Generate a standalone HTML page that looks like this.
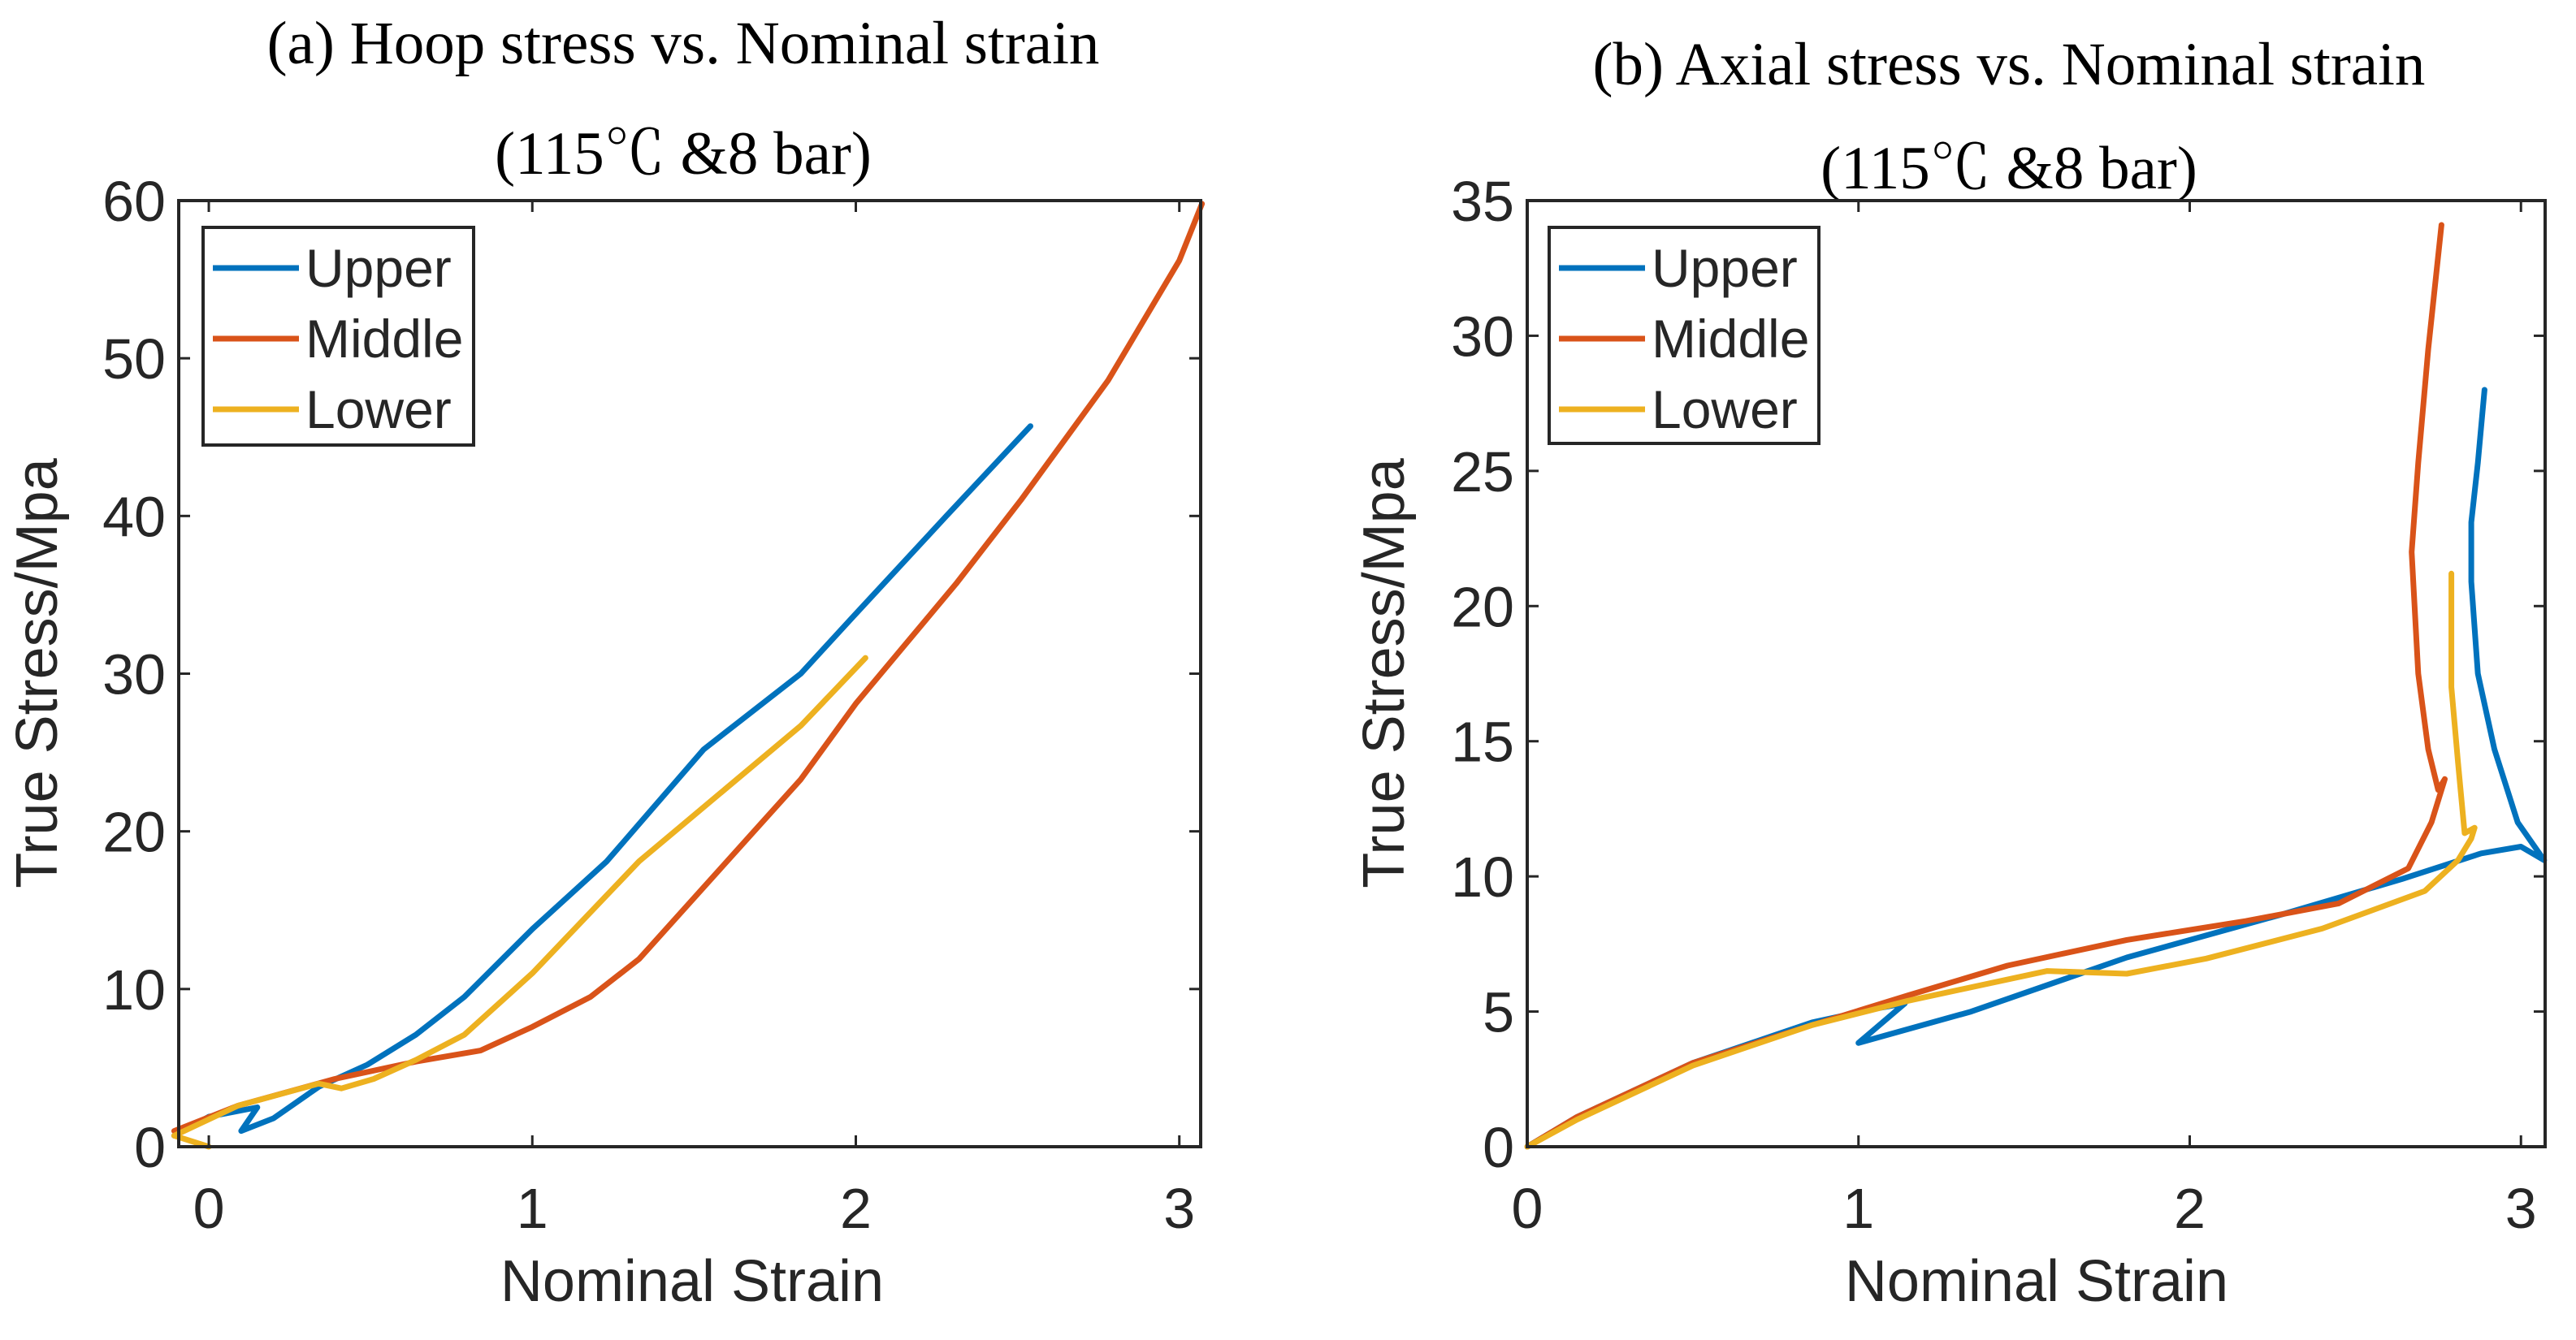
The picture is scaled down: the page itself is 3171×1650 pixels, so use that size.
<!DOCTYPE html>
<html><head><meta charset="utf-8">
<style>
html,body{margin:0;padding:0;background:#fff;}
svg{display:block;}
.t{font-family:"Liberation Serif","Noto Serif CJK SC",serif;font-size:75px;fill:#000;}
.s{font-family:"Liberation Sans",sans-serif;fill:#262626;}
</style></head>
<body>
<svg id="fig" width="3171" height="1650" viewBox="0 0 3171 1650" xmlns="http://www.w3.org/2000/svg">
<text class="t" x="841" y="78" text-anchor="middle">(a) Hoop stress vs. Nominal strain</text>
<text class="t" x="841" y="214" text-anchor="middle">(115℃ &amp;8 bar)</text>
<text class="t" x="2473" y="104" text-anchor="middle">(b) Axial stress vs. Nominal strain</text>
<text class="t" x="2473" y="232" text-anchor="middle">(115℃ &amp;8 bar)</text>
</svg>
<script>
// ---- Chart (a) data ----
const aXTicks = [0, 1, 2, 3];
const aYTicks = [0, 10, 20, 30, 40, 50, 60];
const aUpperX = [-0.107, 0.0, 0.15, 0.10, 0.20, 0.34, 0.49, 0.64, 0.79, 1.0, 1.23, 1.53, 1.83, 2.0, 2.28, 2.54];
const aUpperY = [0.7, 1.9, 2.5, 1.0, 1.8, 3.8, 5.2, 7.1, 9.5, 13.8, 18.1, 25.2, 30.0, 33.8, 40.0, 45.7];
const aMiddleX = [-0.107, 0.09, 0.39, 0.64, 0.84, 1.0, 1.18, 1.33, 1.58, 1.83, 2.0, 2.31, 2.51, 2.78, 3.0, 3.07];
const aMiddleY = [1.0, 2.6, 4.3, 5.4, 6.1, 7.6, 9.5, 11.9, 17.6, 23.3, 28.1, 35.7, 41.0, 48.6, 56.2, 59.8];
const aLowerX = [0.0, -0.107, 0.09, 0.34, 0.41, 0.51, 0.64, 0.79, 1.0, 1.33, 1.58, 1.83, 2.03];
const aLowerY = [0.0, 0.7, 2.6, 4.0, 3.7, 4.3, 5.5, 7.1, 11.0, 18.1, 22.4, 26.7, 31.0];
// ---- Chart (b) data ----
const bXTicks = [0, 1, 2, 3];
const bYTicks = [0, 5, 10, 15, 20, 25, 30, 35];
const bUpperX = [0, 0.15, 0.5, 0.86, 1.05, 1.14, 1.0, 1.34, 1.81, 2.28, 2.64, 2.88, 3.0, 3.07, 2.99, 2.92, 2.87, 2.85, 2.85, 2.87, 2.89];
const bUpperY = [0, 1.1, 3.1, 4.6, 5.1, 5.3, 3.84, 5.0, 7.0, 8.6, 9.9, 10.85, 11.1, 10.6, 12.0, 14.7, 17.5, 20.9, 23.1, 25.3, 28.0];
const bMiddleX = [0, 0.15, 0.5, 0.86, 1.15, 1.45, 1.81, 2.17, 2.45, 2.66, 2.73, 2.77, 2.75, 2.72, 2.69, 2.67, 2.69, 2.72, 2.76];
const bMiddleY = [0, 1.1, 3.1, 4.5, 5.6, 6.7, 7.65, 8.35, 9.0, 10.3, 12.0, 13.6, 13.2, 14.7, 17.5, 22.0, 25.3, 29.5, 34.1];
const bLowerX = [0, 0.15, 0.5, 0.86, 1.15, 1.57, 1.81, 2.05, 2.4, 2.71, 2.81, 2.85, 2.86, 2.83, 2.81, 2.79, 2.79];
const bLowerY = [0, 1.0, 3.0, 4.5, 5.4, 6.5, 6.4, 6.96, 8.07, 9.46, 10.6, 11.4, 11.8, 11.6, 14.2, 17.0, 21.2];

const NS = 'http://www.w3.org/2000/svg';
const svg = document.getElementById('fig');
const COLORS = {upper:'#0072BD', middle:'#D95319', lower:'#EDB120'};
function mk(tag, attrs, parent){
  const e = document.createElementNS(NS, tag);
  for (const k in attrs) e.setAttribute(k, attrs[k]);
  (parent||svg).appendChild(e);
  return e;
}
function chart(id, box, xmin, xmax, ymin, ymax, xt, yt, series, legendBox, xlabX, ylabX){
  const g = mk('g', {});
  
  
  const sx = v => box.l + (v - xmin) / (xmax - xmin) * (box.r - box.l);
  const sy = v => box.b - (v - ymin) / (ymax - ymin) * (box.b - box.t);
  series.forEach(s => {
    const d = s.x.map((v, i) => (i ? 'L' : 'M') + sx(v).toFixed(1) + ' ' + sy(s.y[i]).toFixed(1)).join(' ');
    const p = mk('path', {d: d, fill: 'none', stroke: s.color, 'stroke-width': 7, 'stroke-linejoin': 'round', 'stroke-linecap': 'round'}, g);
    
    
  });
  const ax = mk('rect', {x: box.l, y: box.t, width: box.r - box.l, height: box.b - box.t, fill: 'none', stroke: '#262626', 'stroke-width': 4}, g);
  
  
  xt.forEach(v => {
    const x = sx(v);
    mk('line', {x1: x, x2: x, y1: box.b, y2: box.b - 14, stroke: '#262626', 'stroke-width': 3}, g);
    mk('line', {x1: x, x2: x, y1: box.t, y2: box.t + 14, stroke: '#262626', 'stroke-width': 3}, g);
    const t = mk('text', {x: x, y: box.b + 100, 'text-anchor': 'middle', class: 's', 'font-size': 70}, g);
    t.textContent = v;
    
    
  });
  yt.forEach(v => {
    const y = sy(v);
    mk('line', {x1: box.l, x2: box.l + 14, y1: y, y2: y, stroke: '#262626', 'stroke-width': 3}, g);
    mk('line', {x1: box.r, x2: box.r - 14, y1: y, y2: y, stroke: '#262626', 'stroke-width': 3}, g);
    const t = mk('text', {x: box.l - 16, y: y + 25, 'text-anchor': 'end', class: 's', 'font-size': 70}, g);
    t.textContent = v;
    
    
  });
  const xl = mk('text', {x: xlabX, y: 1602, 'text-anchor': 'middle', class: 's', 'font-size': 72}, g);
  xl.textContent = 'Nominal Strain';
  
  
  const yl = mk('text', {x: 0, y: 0, 'text-anchor': 'middle', class: 's', 'font-size': 72, transform: 'translate(' + ylabX + ',829) rotate(-90)'}, g);
  yl.textContent = 'True Stress/Mpa';
  
  
  const lg = mk('g', {}, g);
  
  
  mk('rect', {x: legendBox.x, y: legendBox.y, width: legendBox.w, height: legendBox.h, fill: '#fff', stroke: '#262626', 'stroke-width': 4}, lg);
  series.forEach((s, i) => {
    const y = legendBox.y + 50 + i * 87;
    const e = mk('g', {}, lg);
    
    
    mk('line', {x1: legendBox.x + 12, x2: legendBox.x + 118, y1: y, y2: y, stroke: s.color, 'stroke-width': 7}, e);
    const t = mk('text', {x: legendBox.x + 126, y: y + 23, class: 's', 'font-size': 66, fill: '#000'}, e);
    t.textContent = s.label;
  });
}
chart('a', {l: 220, r: 1478, t: 247, b: 1412}, -0.093, 3.066, 0, 60, aXTicks, aYTicks, [
  {name: 'upper', label: 'Upper', color: COLORS.upper, x: aUpperX, y: aUpperY},
  {name: 'middle', label: 'Middle', color: COLORS.middle, x: aMiddleX, y: aMiddleY},
  {name: 'lower', label: 'Lower', color: COLORS.lower, x: aLowerX, y: aLowerY}
], {x: 250, y: 280, w: 333, h: 268}, 852, 70);
chart('b', {l: 1880, r: 3133, t: 247, b: 1412}, 0, 3.073, 0, 35, bXTicks, bYTicks, [
  {name: 'upper', label: 'Upper', color: COLORS.upper, x: bUpperX, y: bUpperY},
  {name: 'middle', label: 'Middle', color: COLORS.middle, x: bMiddleX, y: bMiddleY},
  {name: 'lower', label: 'Lower', color: COLORS.lower, x: bLowerX, y: bLowerY}
], {x: 1907, y: 280, w: 332, h: 266}, 2507, 1728);
</script>
</body></html>
